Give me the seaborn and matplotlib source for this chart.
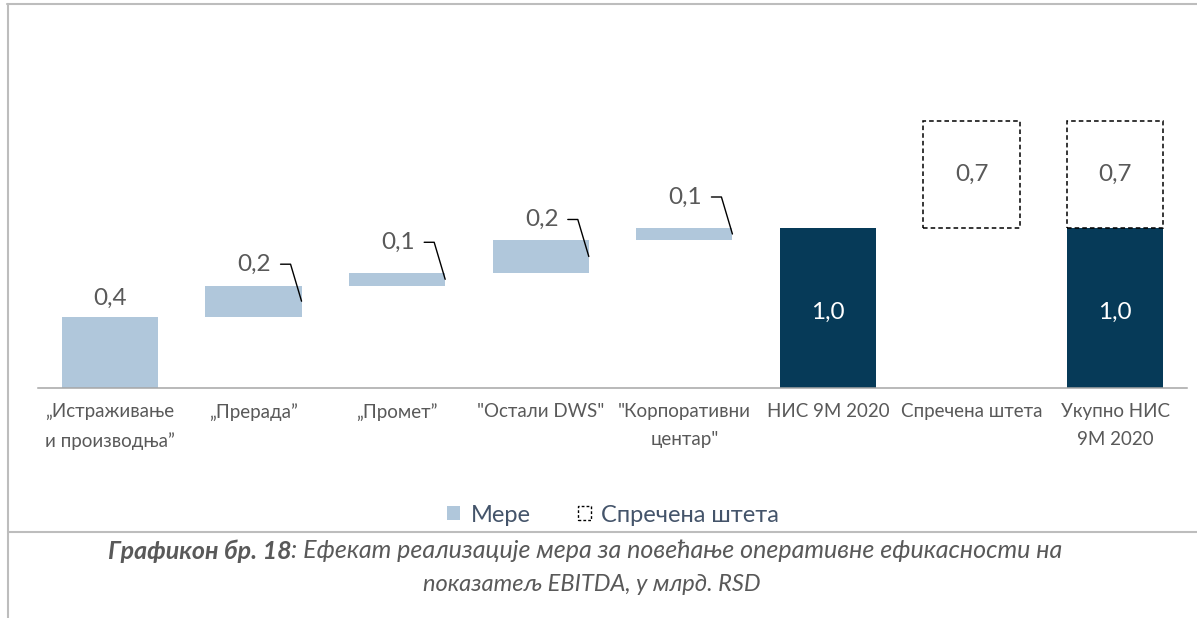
import numpy as np
import matplotlib
matplotlib.use('Agg')
import matplotlib.pyplot as plt
from matplotlib.lines import Line2D
from matplotlib.patches import Patch
import seaborn as sns

# ============================================================
# Data
# ============================================================
CATEGORIES = [
    "„Истраживање\nи производња”", "„Прерада”", "„Промет”", "\"Остали DWS\"",
    "\"Корпоративни\nцентар\"", "НИС 9М 2020", "Спречена штета", "Укупно НИС\n9М 2020",
]
STEP_CATS = CATEGORIES[:5]
STEP_VALUES = [0.445, 0.195, 0.079, 0.206, 0.075]      # мере, млрд. RSD
TOTAL_CATS = [CATEGORIES[5], CATEGORIES[7]]
TOTAL_VALUES = [1.0, 1.0]
PREVENTED_CATS = [CATEGORIES[6], CATEGORIES[7]]
PREVENTED_VALUES = [0.67, 0.67]
LEGEND_LABELS = ["Мере", "Спречена штета"]
CAPTION_BOLD = "Графикон бр. 18"
CAPTION_REST = ": Ефекат реализације мера за повећање оперативне ефикасности на"
CAPTION_LINE2 = "показатељ EBITDA, у млрд. RSD"

LIGHT = '#B0C7DB'
DARK = '#063A58'
TEXT = '#595959'
FRAME = '#BDBDBD'

sns.set_style('white')
plt.rcParams['font.family'] = ['Lato', 'DejaVu Sans']

W, H = 1197, 618
fig = plt.figure(figsize=(W / 100, H / 100), dpi=100)

# axes geometry in pixels
AX_L, AX_R, AX_BASE, AX_TOP = 38, 1187, 388, 24
PX_PER_Y = 160.0
ax = fig.add_axes([AX_L / W, (H - AX_BASE) / H, (AX_R - AX_L) / W, (AX_BASE - AX_TOP) / H])
px_x = len(CATEGORIES) / (AX_R - AX_L)
px_y = 1.0 / PX_PER_Y

BAR_W = 0.67
step_bottom = np.concatenate([[0], np.cumsum(STEP_VALUES)[:-1]])
prev_bottom = np.full(len(PREVENTED_VALUES), TOTAL_VALUES[0])

sns.barplot(x=STEP_CATS, y=STEP_VALUES, order=CATEGORIES, bottom=step_bottom,
            color=LIGHT, saturation=1, width=BAR_W, errorbar=None, linewidth=0, ax=ax)
sns.barplot(x=TOTAL_CATS, y=TOTAL_VALUES, order=CATEGORIES,
            color=DARK, saturation=1, width=BAR_W, errorbar=None, linewidth=0, ax=ax)
sns.barplot(x=PREVENTED_CATS, y=PREVENTED_VALUES, order=CATEGORIES, bottom=prev_bottom,
            color='black', fill=False, width=BAR_W, errorbar=None,
            linewidth=1.1, linestyle=(0, (3.0, 2.0)), ax=ax)

ax.set_xlim(-0.5, len(CATEGORIES) - 0.5)
ax.set_ylim(0, (AX_BASE - AX_TOP) / PX_PER_Y)
ax.set_xlabel('')
ax.set_ylabel('')
ax.set_yticks([])
sns.despine(ax=ax, left=True)
ax.spines['bottom'].set_color('#A6A6A6')
ax.spines['bottom'].set_linewidth(1.1)
ax.set_xticks(np.arange(len(CATEGORIES)))
ax.set_xticklabels(CATEGORIES, fontsize=13.5, color=TEXT, linespacing=1.8)
ax.set_xticks(np.arange(-0.5, len(CATEGORIES), 1), minor=True)
ax.tick_params(axis='x', which='major', length=0, pad=11)
ax.tick_params(axis='x', which='minor', length=4, width=1, color='#A6A6A6', direction='out')

# value labels
VAL_FS = 17.5


def fmt(v):
    return f"{v:.1f}".replace('.', ',')


ax.text(0, STEP_VALUES[0] + 18 * px_y, fmt(STEP_VALUES[0]), ha='center', va='center',
        fontsize=VAL_FS, color=TEXT)
for i in range(1, len(STEP_VALUES)):
    x_r = i + BAR_W / 2
    mid = step_bottom[i] + STEP_VALUES[i] / 2
    ty = mid + 37 * px_y
    ax.text(x_r - 47 * px_x, ty, fmt(STEP_VALUES[i]), ha='center', va='center',
            fontsize=VAL_FS, color=TEXT)
    ax.plot([x_r - 21 * px_x, x_r - 11 * px_x, x_r], [ty, ty, mid], color='black', lw=1)

for cat, v in zip(TOTAL_CATS, TOTAL_VALUES):
    ax.text(CATEGORIES.index(cat), v / 2 - 4 * px_y, fmt(v), ha='center', va='center',
            fontsize=VAL_FS, color='white')
for cat, v, b in zip(PREVENTED_CATS, PREVENTED_VALUES, prev_bottom):
    ax.text(CATEGORIES.index(cat), b + v / 2, fmt(v), ha='center', va='center',
            fontsize=VAL_FS, color=TEXT)

# legend
handles = [
    Patch(facecolor=LIGHT, edgecolor='none'),
    Patch(facecolor='white', edgecolor='black', linestyle=(0, (2, 1.5)), linewidth=1),
]
fig.legend(handles, LEGEND_LABELS, loc='center', bbox_to_anchor=(613 / W, 1 - 515 / H),
           ncol=2, frameon=False, fontsize=17, labelcolor='#44546A',
           handlelength=0.55, handleheight=0.55, handletextpad=0.45, columnspacing=2.0)

# frame lines
fig.add_artist(Line2D([7 / W, 1], [1 - 4 / H] * 2, color=FRAME, lw=1.5))
fig.add_artist(Line2D([8 / W] * 2, [0, 1 - 4 / H], color=FRAME, lw=1.5))
fig.add_artist(Line2D([8 / W, 1], [1 - 532 / H] * 2, color=FRAME, lw=1.5))

# caption
renderer = fig.canvas.get_renderer()
cap_kw = dict(color=TEXT, style='italic', va='center')
t1 = fig.text(0, 1 - 551 / H, CAPTION_BOLD, fontweight='bold', fontsize=18, **cap_kw)
t2 = fig.text(0, 1 - 551 / H, CAPTION_REST, fontsize=18, **cap_kw)
w1 = t1.get_window_extent(renderer).width
w2 = t2.get_window_extent(renderer).width
x0 = 585 - (w1 + w2) / 2
t1.set_x(x0 / W)
t2.set_x((x0 + w1) / W)
fig.text(592 / W, 1 - 584 / H, CAPTION_LINE2, ha='center', fontsize=17, **cap_kw)

fig.savefig('out.png', dpi=100)
